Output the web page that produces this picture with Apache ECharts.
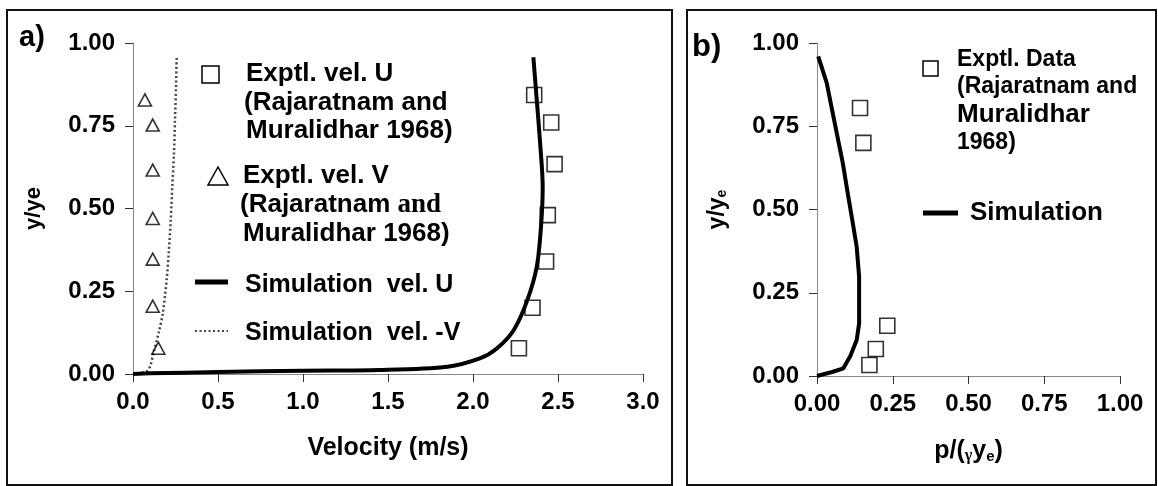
<!DOCTYPE html>
<html>
<head>
<meta charset="utf-8">
<script src="https://cdn.jsdelivr.net/npm/echarts@6/dist/echarts.min.js"></script>
<style>
html,body{margin:0;padding:0;background:#fff;}
#c{width:1158px;height:486px;}
</style>
</head>
<body>
<div id="c"></div>
<script>
// ---- Panel a) data ----
const velTicks = [0, 0.5, 1.0, 1.5, 2.0, 2.5, 3.0];
const yTicks = [0, 0.25, 0.5, 0.75, 1.0];
const uExpVel = [2.27, 2.35, 2.43, 2.44, 2.48, 2.46, 2.36];
const uExpY   = [0.078, 0.20, 0.34, 0.48, 0.634, 0.76, 0.843];
const vExpVel = [0.149, 0.116, 0.116, 0.116, 0.116, 0.116, 0.07];
const vExpY   = [0.078, 0.205, 0.347, 0.47, 0.616, 0.752, 0.828];
const uSimVel = [0, 0.1, 0.5, 1.0, 1.45, 1.85, 2.04, 2.14, 2.24, 2.32, 2.375, 2.40, 2.41, 2.395, 2.375, 2.355];
const uSimY   = [0, 0.002, 0.006, 0.010, 0.012, 0.022, 0.047, 0.077, 0.133, 0.224, 0.324, 0.445, 0.566, 0.697, 0.828, 0.957];
const vSimVel = [0, 0.08, 0.10, 0.12, 0.155, 0.175, 0.198, 0.21, 0.222, 0.231, 0.241, 0.247, 0.253, 0.257];
const vSimY   = [0, 0.008, 0.022, 0.062, 0.133, 0.183, 0.284, 0.365, 0.465, 0.566, 0.667, 0.767, 0.868, 0.958];
// ---- Panel b) data ----
const pTicks = [0, 0.25, 0.5, 0.75, 1.0];
const pExpX = [0.173, 0.194, 0.232, 0.153, 0.142];
const pExpY = [0.033, 0.081, 0.151, 0.70, 0.805];
const pSimX = [0, 0.05, 0.087, 0.11, 0.131, 0.139, 0.139, 0.131, 0.118, 0.103, 0.085, 0.065, 0.032, 0.004];
const pSimY = [0, 0.012, 0.023, 0.06, 0.108, 0.158, 0.298, 0.388, 0.46, 0.54, 0.64, 0.73, 0.88, 0.96];

const zip = (a, b) => a.map((v, i) => [v, b[i]]);
const FF = '"Liberation Sans", Arial, sans-serif';
const SERIF = '"Liberation Serif", "Times New Roman", serif';

const chart = echarts.init(document.getElementById('c'), null, {renderer: 'canvas'});

const LBL = {color: '#000', fontFamily: FF, fontWeight: 'bold', fontSize: 24};

function axisCommon(extra) {
  return Object.assign({
    type: 'value',
    splitLine: {show: false},
    axisLine: {show: true, lineStyle: {color: '#888', width: 1}},
    axisTick: {show: true, inside: false, length: 8, lineStyle: {color: '#333', width: 1}},
    nameTextStyle: {color: '#000', fontFamily: FF, fontWeight: 'bold', fontSize: 25}
  }, extra);
}

const tx = (x, y, text, size) => ({
  type: 'text', x: x, y: y,
  style: {text: text, fill: '#000', font: 'bold ' + size + 'px ' + FF, textVerticalAlign: 'middle'}
});

const option = {
  animation: false,
  backgroundColor: '#fff',
  grid: [
    {left: 133, top: 43, width: 510, height: 331},
    {left: 817, top: 43, width: 303, height: 333}
  ],
  xAxis: [
    axisCommon({gridIndex: 0, min: velTicks[0], max: velTicks[velTicks.length - 1], interval: 0.5,
      axisLabel: Object.assign({margin: 16, formatter: v => v.toFixed(1)}, LBL),
      name: 'Velocity (m/s)', nameLocation: 'middle', nameGap: 62}),
    axisCommon({gridIndex: 1, min: pTicks[0], max: pTicks[pTicks.length - 1], interval: 0.25,
      axisLabel: Object.assign({margin: 16, formatter: v => v.toFixed(2)}, LBL),
      name: '{n|p/(}{g|γ}{n|y}{s|e}{n|)}', nameLocation: 'middle', nameGap: 58,
      nameTextStyle: {rich: {
        n: {fontFamily: FF, fontWeight: 'bold', fontSize: 25, color: '#000', verticalAlign: 'bottom', lineHeight: 30},
        g: {fontFamily: SERIF, fontWeight: 'bold', fontSize: 16, color: '#000', verticalAlign: 'bottom', lineHeight: 22},
        s: {fontFamily: FF, fontWeight: 'bold', fontSize: 15, color: '#000', verticalAlign: 'bottom', lineHeight: 20}
      }}})
  ],
  yAxis: [
    axisCommon({gridIndex: 0, min: yTicks[0], max: yTicks[yTicks.length - 1], interval: 0.25,
      axisLabel: Object.assign({margin: 18, formatter: v => v.toFixed(2)}, LBL),
      name: 'y/ye', nameLocation: 'middle', nameGap: 88, nameRotate: 90,
      nameTextStyle: {color: '#000', fontFamily: FF, fontWeight: 'bold', fontSize: 22}}),
    axisCommon({gridIndex: 1, min: pTicks[0], max: pTicks[pTicks.length - 1], interval: 0.25,
      axisLabel: Object.assign({margin: 18, formatter: v => v.toFixed(2)}, LBL),
      name: '{n|y/y}{s|e}', nameLocation: 'middle', nameGap: 88, nameRotate: 90,
      nameTextStyle: {rich: {
        n: {fontFamily: FF, fontWeight: 'bold', fontSize: 23, color: '#000', verticalAlign: 'bottom', lineHeight: 30},
        s: {fontFamily: FF, fontWeight: 'bold', fontSize: 14, color: '#000', verticalAlign: 'bottom', lineHeight: 22}
      }}})
  ],
  series: [
    {name: 'Simulation vel. -V', type: 'line', xAxisIndex: 0, yAxisIndex: 0, data: zip(vSimVel, vSimY),
      showSymbol: false, smooth: 0.3, lineStyle: {color: '#444', width: 2.5, type: [2, 2.5]}, z: 2},
    {name: 'Simulation vel. U', type: 'line', xAxisIndex: 0, yAxisIndex: 0, data: zip(uSimVel, uSimY),
      showSymbol: false, smooth: 0.3, lineStyle: {color: '#000', width: 4}, z: 3},
    {name: 'Exptl. vel. U', type: 'scatter', xAxisIndex: 0, yAxisIndex: 0, data: zip(uExpVel, uExpY),
      symbol: 'rect', symbolSize: 15, itemStyle: {color: 'rgba(0,0,0,0)', borderColor: '#000', borderWidth: 1.6}, z: 4},
    {name: 'Exptl. vel. V', type: 'scatter', xAxisIndex: 0, yAxisIndex: 0, data: zip(vExpVel, vExpY),
      symbol: 'triangle', symbolSize: [13, 12], itemStyle: {color: 'rgba(0,0,0,0)', borderColor: '#000', borderWidth: 1.6}, z: 4},
    {name: 'Simulation', type: 'line', xAxisIndex: 1, yAxisIndex: 1, data: zip(pSimX, pSimY),
      showSymbol: false, smooth: false, lineStyle: {color: '#000', width: 4}, z: 3},
    {name: 'Exptl. Data', type: 'scatter', xAxisIndex: 1, yAxisIndex: 1, data: zip(pExpX, pExpY),
      symbol: 'rect', symbolSize: 15, itemStyle: {color: 'rgba(0,0,0,0)', borderColor: '#000', borderWidth: 1.6}, z: 4}
  ],
  graphic: [
    // panel boxes
    {type: 'rect', shape: {x: 7, y: 10, width: 665, height: 475}, style: {fill: 'none', stroke: '#111', lineWidth: 2}},
    {type: 'rect', shape: {x: 687, y: 10, width: 469, height: 475}, style: {fill: 'none', stroke: '#111', lineWidth: 2}},
    // panel labels
    tx(19, 38, 'a)', 29),
    tx(692, 47, 'b)', 31),
    // legend a)
    {type: 'rect', shape: {x: 202, y: 66, width: 17, height: 17}, style: {fill: 'none', stroke: '#000', lineWidth: 1.5}},
    tx(246, 74, 'Exptl. vel. U', 26),
    tx(244, 103, '(Rajaratnam and', 26),
    tx(246, 131, 'Muralidhar 1968)', 26),
    {type: 'polygon', shape: {points: [[218, 167], [208, 185], [228, 185]]}, style: {fill: 'none', stroke: '#000', lineWidth: 1.5}},
    tx(243, 176, 'Exptl. vel. V', 26),
    {type: 'text', x: 240, y: 205, style: {
      text: '{a|(Rajaratnam }{b|and}', textVerticalAlign: 'middle',
      rich: {a: {font: 'bold 26px ' + FF, fill: '#000'}, b: {font: 'bold 27px ' + SERIF, fill: '#000'}}}},
    tx(243, 234, 'Muralidhar 1968)', 26),
    {type: 'line', shape: {x1: 195, y1: 282, x2: 228, y2: 282}, style: {stroke: '#000', lineWidth: 5}},
    tx(245, 285, 'Simulation  vel. U', 25),
    {type: 'line', shape: {x1: 195, y1: 331, x2: 228, y2: 331}, style: {stroke: '#444', lineWidth: 2, lineDash: [2, 2.5]}},
    tx(245, 333, 'Simulation  vel. -V', 25),
    // legend b)
    {type: 'rect', shape: {x: 923, y: 61, width: 15, height: 15}, style: {fill: 'none', stroke: '#000', lineWidth: 1.5}},
    tx(957, 60, 'Exptl. Data', 23),
    tx(957, 87, '(Rajaratnam and', 23),
    tx(957, 115, 'Muralidhar', 26),
    tx(957, 143, '1968)', 23),
    {type: 'line', shape: {x1: 923, y1: 213, x2: 958, y2: 213}, style: {stroke: '#000', lineWidth: 5}},
    tx(970, 213, 'Simulation', 26)
  ]
};
chart.setOption(option);
</script>
</body>
</html>
